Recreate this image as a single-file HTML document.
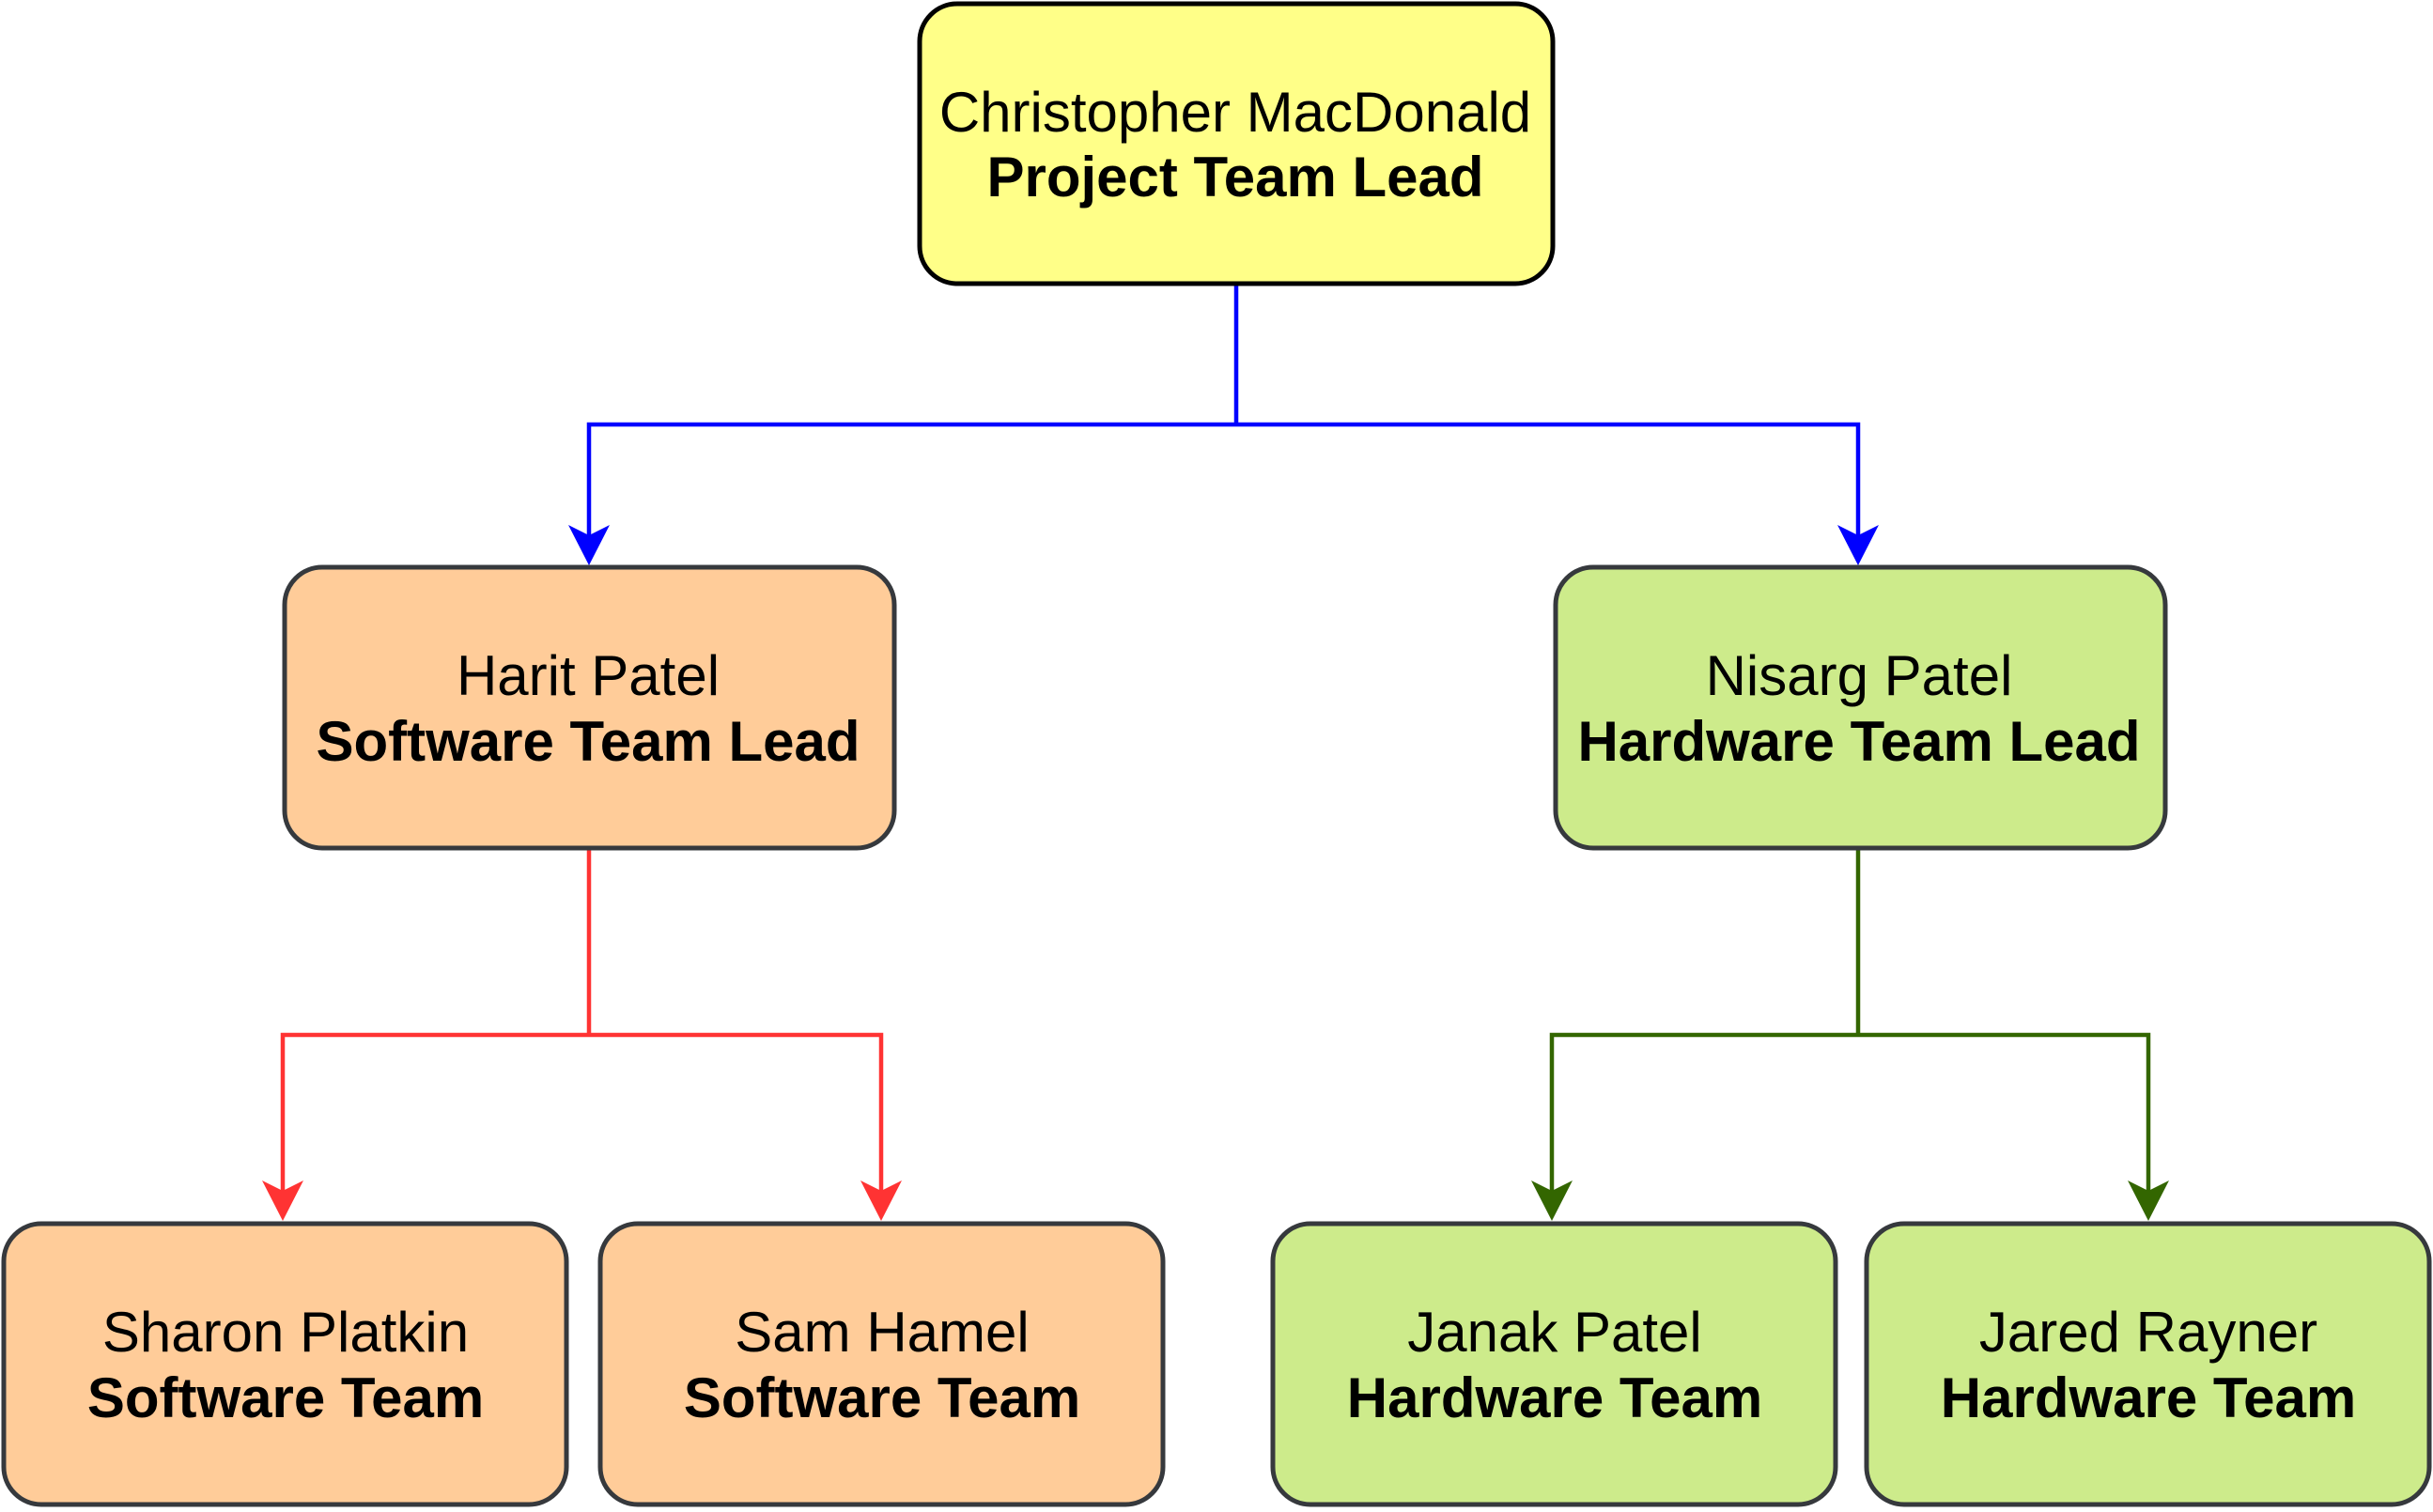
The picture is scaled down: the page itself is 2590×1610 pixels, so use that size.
<!DOCTYPE html>
<html><head><meta charset="utf-8"><style>
html,body{margin:0;padding:0;background:#fff;}
svg{display:block;}
text{font-family:"Liberation Sans",Arial,sans-serif;font-size:60px;fill:#000;}
.b{font-weight:bold;}
</style></head><body>
<svg width="2590" height="1610" viewBox="0 0 2590 1610" xmlns="http://www.w3.org/2000/svg">
<g fill="none" stroke-width="4.5">
<path d="M1316 303 V452 H627 V585 M1316 452 H1978 V585" stroke="#0000FF"/>
<path d="M627 903 V1102 H301 V1270 M627 1102 H938 V1270" stroke="#FF3333"/>
<path d="M1978 903 V1102 H1652 V1270 M1978 1102 H2287 V1270" stroke="#336600"/>
</g>
<g fill="#0000FF">
<path d="M627 602 L605 559 L627 570 L649 559 Z"/>
<path d="M1978 602 L1956 559 L1978 570 L2000 559 Z"/>
</g>
<g fill="#FF3333">
<path d="M301 1300 L279 1257 L301 1268 L323 1257 Z"/>
<path d="M938 1300 L916 1257 L938 1268 L960 1257 Z"/>
</g>
<g fill="#336600">
<path d="M1652 1300 L1630 1257 L1652 1268 L1674 1257 Z"/>
<path d="M2287 1300 L2265 1257 L2287 1268 L2309 1257 Z"/>
</g>
<rect x="979" y="4" width="674" height="298" rx="40" fill="#FFFF88" stroke="#000" stroke-width="5"/>
<rect x="303" y="604" width="649" height="299" rx="40" fill="#FFCC99" stroke="#36393d" stroke-width="5"/>
<rect x="1656" y="604" width="649" height="299" rx="40" fill="#CDEB8B" stroke="#36393d" stroke-width="5"/>
<rect x="4" y="1303" width="599" height="299" rx="40" fill="#FFCC99" stroke="#36393d" stroke-width="5"/>
<rect x="639" y="1303" width="599" height="299" rx="40" fill="#FFCC99" stroke="#36393d" stroke-width="5"/>
<rect x="1355" y="1303" width="599" height="299" rx="40" fill="#CDEB8B" stroke="#36393d" stroke-width="5"/>
<rect x="1987" y="1303" width="599" height="299" rx="40" fill="#CDEB8B" stroke="#36393d" stroke-width="5"/>
<g text-anchor="middle">
<text x="1315" y="140">Christopher MacDonald</text>
<text x="1315" y="209" class="b">Project Team Lead</text>
<text x="626" y="740">Harit Patel</text>
<text x="626" y="810" class="b">Software Team Lead</text>
<text x="1979" y="740">Nisarg Patel</text>
<text x="1979" y="810" class="b">Hardware Team Lead</text>
<text x="304" y="1439">Sharon Platkin</text>
<text x="304" y="1509" class="b">Software Team</text>
<text x="939" y="1439">Sam Hamel</text>
<text x="939" y="1509" class="b">Software Team</text>
<text x="1655" y="1439">Janak Patel</text>
<text x="1655" y="1509" class="b">Hardware Team</text>
<text x="2287" y="1439">Jared Rayner</text>
<text x="2287" y="1509" class="b">Hardware Team</text>
</g>
</svg>
</body></html>
